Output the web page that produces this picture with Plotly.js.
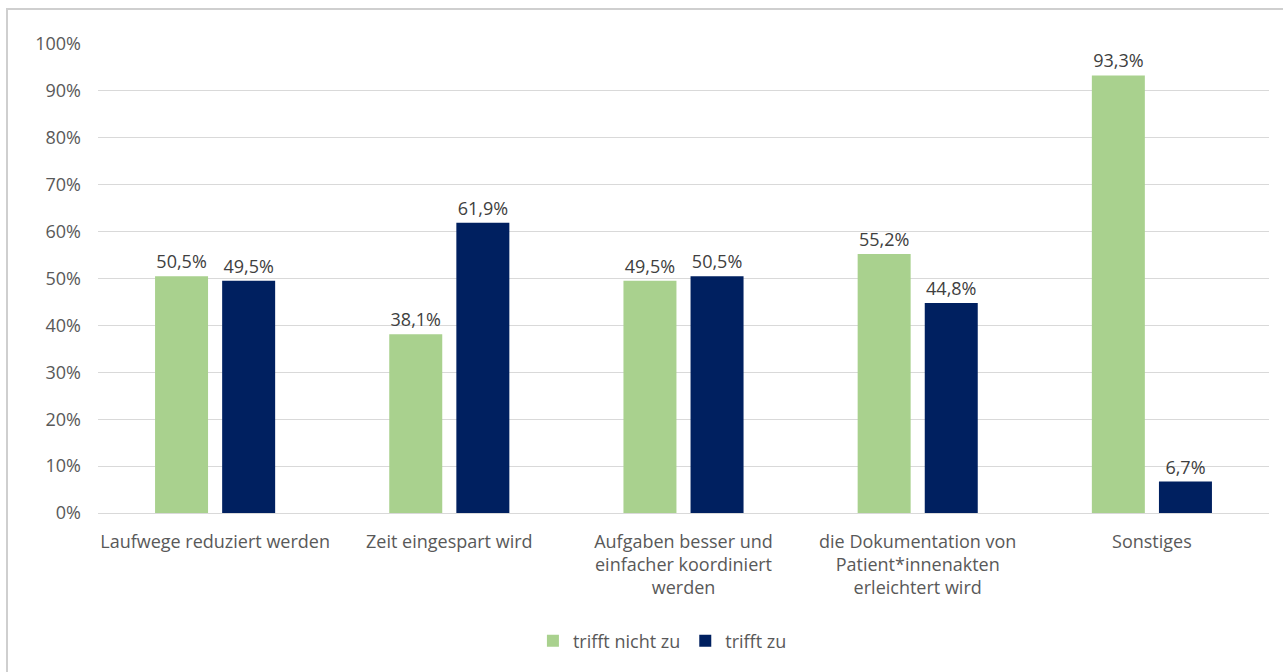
<!DOCTYPE html>
<html>
<head>
<meta charset="utf-8">
<script src="https://cdn.plot.ly/plotly-3.0.1.min.js"></script>
<style>
html,body{margin:0;padding:0;background:#fff;overflow:hidden;}
#frame{position:absolute;left:6px;top:8px;width:1300px;height:700px;border:2px solid #cfcfcf;box-sizing:border-box;pointer-events:none;z-index:5;}
#chart{position:absolute;left:0;top:0;width:1283px;height:672px;}
</style>
</head>
<body>
<div id="frame"></div>
<div id="chart"></div>
<script>
const categories = [
  "Laufwege reduziert werden",
  "Zeit eingespart wird",
  "Aufgaben besser und<br>einfacher koordiniert<br>werden",
  "die Dokumentation von<br>Patient*innenakten<br>erleichtert wird",
  "Sonstiges"
];
const seriesNames = ["trifft nicht zu", "trifft zu"];
const trifftNichtZu = [0.505, 0.381, 0.495, 0.552, 0.933];
const trifftZu = [0.495, 0.619, 0.505, 0.448, 0.067];
const colors = ["#A9D18E", "#002060"];

const fontFam = "Open Sans, Noto Sans, sans-serif";
const textColor = "#595959";
const fs = 18;

const traces = [trifftNichtZu, trifftZu].map((vals, i) => ({
  type: "bar",
  name: seriesNames[i],
  x: categories,
  y: vals,
  marker: {color: colors[i]},
  texttemplate: "%{y:.1%}",
  textposition: "outside",
  cliponaxis: false,
  textfont: {family: fontFam, size: fs, color: "#404040"},
  hoverinfo: "none"
}));

const layout = {
  width: 1283,
  height: 672,
  separators: ",.",
  paper_bgcolor: "#fff",
  plot_bgcolor: "#fff",
  margin: {l: 98, r: 14, t: 44, b: 159},
  barmode: "group",
  bargap: 0.427,
  bargroupgap: 0.21,
  font: {family: fontFam, size: fs, color: textColor},
  xaxis: {
    type: "category",
    showgrid: false,
    showline: true,
    linecolor: "#d9d9d9",
    linewidth: 1,
    ticks: "",
    tickfont: {family: fontFam, size: fs, color: textColor},
    ticklabelstandoff: 12,
    fixedrange: true
  },
  yaxis: {
    range: [0, 1],
    dtick: 0.1,
    tickformat: ".0%",
    showgrid: true,
    gridcolor: "#d9d9d9",
    gridwidth: 1,
    zeroline: false,
    showline: false,
    ticks: "",
    tickfont: {family: fontFam, size: fs, color: textColor},
    ticklabelstandoff: 16,
    fixedrange: true
  },
  legend: {
    orientation: "h",
    x: 0.482,
    xanchor: "center",
    y: -0.273,
    yanchor: "middle",
    font: {family: fontFam, size: fs, color: textColor},
    itemwidth: 30,
    traceorder: "normal"
  },
  showlegend: true
};

Plotly.newPlot("chart", traces, layout, {displayModeBar: false, staticPlot: true});
</script>
</body>
</html>
